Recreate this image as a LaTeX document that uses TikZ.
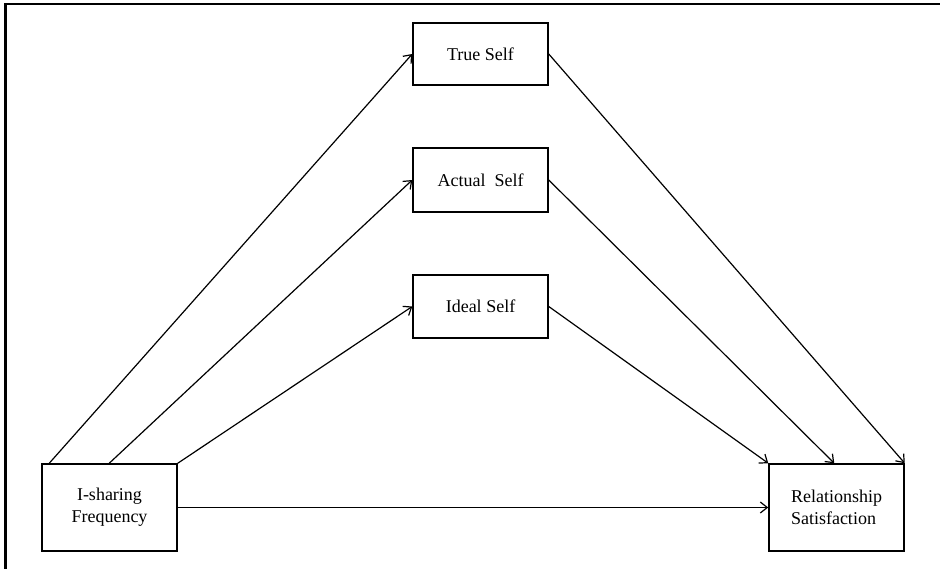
\documentclass[tikz,border=0pt]{standalone}
\usepackage{fontspec}
\setmainfont{Liberation Serif}
\usetikzlibrary{arrows.meta}
\begin{document}
\begin{tikzpicture}[x=1pt,y=-1pt,
  box/.style={draw, line width=1.5pt, minimum width=135pt, inner sep=0pt,
    font=\fontsize{18}{22}\selectfont},
  link/.style={line width=1.2pt, -{Straight Barb[length=7pt,width=11pt]}}]
\useasboundingbox (0,0) rectangle (940,569);
% outer frame: top and left edges only
\draw[line width=2.6pt] (5.3,569) -- (5.3,4.2) -- (940,4.2);

% mediators
\node[box, minimum height=62pt] (ts) at (480.5,54) {True Self};
\node[box, minimum height=64pt] (as) at (480.5,180) {Actual\ \ Self};
\node[box, minimum height=63pt] (is) at (480.5,306.5) {Ideal Self};

% predictor and outcome
\node[box, minimum height=87pt, align=center] (isf) at (109.5,507.5) {I-sharing\\Frequency};
\node[box, minimum height=87pt, align=left] (rel) at (836.5,507.5) {Relationship\\Satisfaction};

% anchor points along the top edges
\coordinate (s1) at ([xshift=8pt]isf.north west);
\coordinate (s2) at ([xshift=68pt]isf.north west);
\coordinate (t2) at ([xshift=66pt]rel.north west);

% paths from the predictor to the mediators
\draw[link] (s1) -- (ts.west);
\draw[link] (s2) -- (as.west);
\draw[link] (isf.north east) -- (is.west);

% paths from the mediators to the outcome
\draw[link] (ts.east) -- (rel.north east);
\draw[link] (as.east) -- (t2);
\draw[link] (is.east) -- (rel.north west);

% direct path
\draw[link] (isf.east) -- (rel.west);
\end{tikzpicture}
\end{document}
